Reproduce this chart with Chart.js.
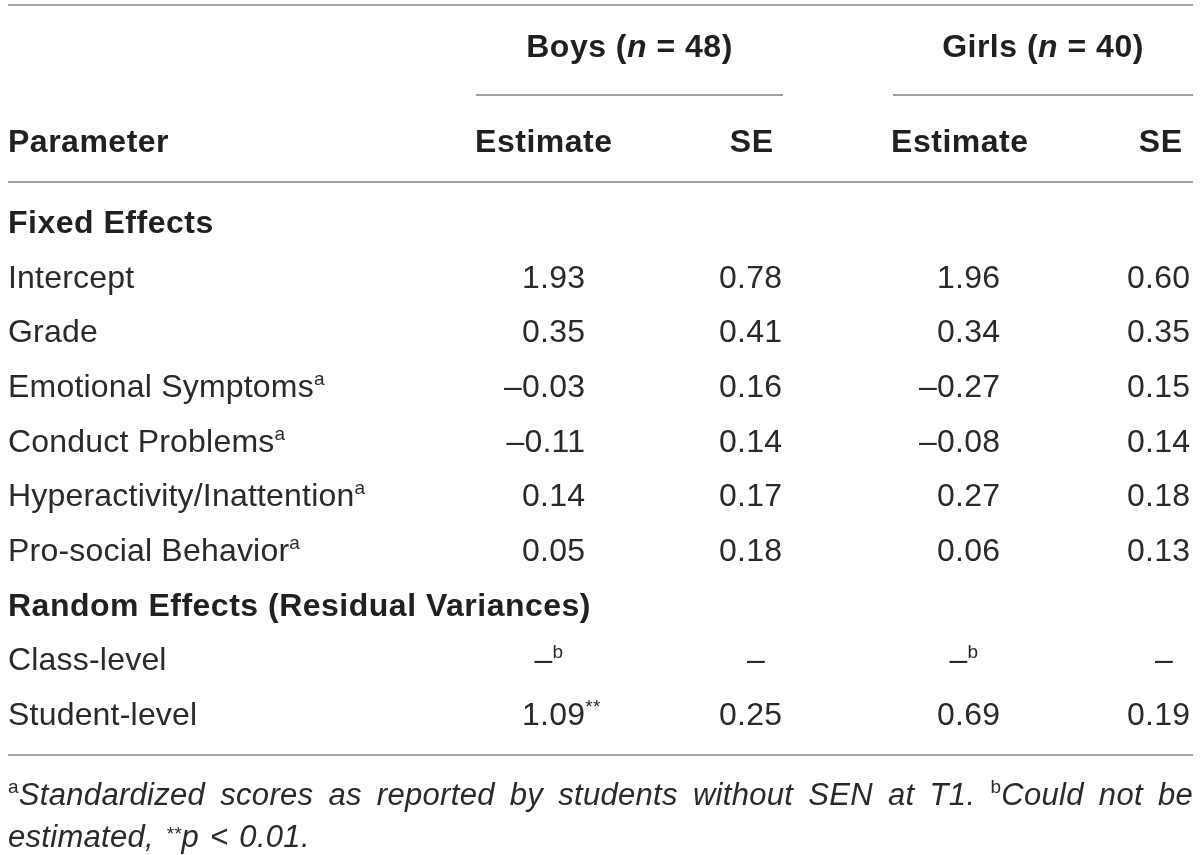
<!DOCTYPE html>
<html>
<head>
<meta charset="utf-8">
<script src="https://cdn.jsdelivr.net/npm/chart.js@4.4.1/dist/chart.umd.min.js"></script>
<style>
html,body{margin:0;padding:0;background:#fff;}
#wrap{width:1200px;height:855px;position:relative;}
</style>
</head>
<body>
<div id="wrap"><canvas id="c"></canvas></div>
<script>
// ---------- DATA ----------
const groups = ['Boys', 'Girls'];
const groupN = [48, 40];
const columnHeads = ['Estimate', 'SE', 'Estimate', 'SE'];
const firstHead = 'Parameter';
const sections = ['Fixed Effects', 'Random Effects (Residual Variances)'];
const fixedParams = ['Intercept', 'Grade', 'Emotional Symptoms', 'Conduct Problems', 'Hyperactivity/Inattention', 'Pro-social Behavior'];
const randomParams = ['Class-level', 'Student-level'];
const paramNotes = ['', '', 'a', 'a', 'a', 'a', '', ''];
const boysEstimate = [1.93, 0.35, -0.03, -0.11, 0.14, 0.05, null, 1.09];
const boysEstimateNotes = ['', '', '', '', '', '', 'b', '**'];
const boysSE = [0.78, 0.41, 0.16, 0.14, 0.17, 0.18, null, 0.25];
const boysSENotes = ['', '', '', '', '', '', '', ''];
const girlsEstimate = [1.96, 0.34, -0.27, -0.08, 0.27, 0.06, null, 0.69];
const girlsEstimateNotes = ['', '', '', '', '', '', 'b', ''];
const girlsSE = [0.60, 0.35, 0.15, 0.14, 0.18, 0.13, null, 0.19];
const girlsSENotes = ['', '', '', '', '', '', '', ''];
const footnoteA = 'Standardized scores as reported by students without SEN at T1.';
const footnoteB = 'Could not be estimated,';
const footnoteP = ['p', '<', '0.01.'];

// ---------- derived ----------
const rows = [sections[0], ...fixedParams, sections[1], ...randomParams];
const params = [...fixedParams, ...randomParams];

// ---------- style / layout ----------
const FF = '"Liberation Sans", Arial, Helvetica, sans-serif';
const SUP = 19, RAISE = 12;
const F = {
  reg:      {font: `32px ${FF}`, ls: 0.2, color: '#2a2a2a'},
  bold:     {font: `bold 32px ${FF}`, ls: 0.5, color: '#231f20'},
  boldItal: {font: `italic bold 32px ${FF}`, ls: 0.5, color: '#231f20'},
  ital:     {font: `italic 31px ${FF}`, ls: 0.3, color: '#2a2a2a'},
  sup:      {font: `${SUP}px ${FF}`, ls: 0.3, color: '#2a2a2a'},
  supItal:  {font: `italic ${SUP}px ${FF}`, ls: 0.3, color: '#2a2a2a'}
};
const RULE = '#a3a3a3';
const LAY = {
  left: 8, right: 1193, topRule: 5, groupBase: 57, groupRule: 95, headBase: 152,
  headRule: 182, bottomRule: 755, foot1: 805, foot2: 847,
  groupRuleX: [[476, 783], [893, 1193]],
  headRight: [612, 773, 1028, 1182],
  colRight: [585, 782, 1000, 1190]
};

const fmt = v => v.toFixed(2).replace('-', '\u2013');

function setF(ctx, f) {
  ctx.font = f.font;
  ctx.fillStyle = f.color;
  ctx.letterSpacing = f.ls + 'px';
}
function tw(ctx, f, t) { setF(ctx, f); return ctx.measureText(t).width; }
function partsWidth(ctx, parts) {
  let w = 0;
  parts.forEach(p => { w += tw(ctx, p.f, p.t); });
  return w;
}
function drawParts(ctx, x, y, parts) {
  parts.forEach(p => {
    setF(ctx, p.f);
    ctx.fillText(p.t, x, y - (p.dy || 0));
    x += ctx.measureText(p.t).width;
  });
  return x;
}
function hline(ctx, x1, x2, y) {
  ctx.beginPath(); ctx.moveTo(x1, y); ctx.lineTo(x2, y); ctx.stroke();
}

const valueCols = [
  {vals: boysEstimate, notes: boysEstimateNotes},
  {vals: boysSE, notes: boysSENotes},
  {vals: girlsEstimate, notes: girlsEstimateNotes},
  {vals: girlsSE, notes: girlsSENotes}
];

const datasets = [
  {kind: 'section', data: sections.map(s => ({x: LAY.left, y: s}))},
  {kind: 'param', data: params.map((p, i) => ({x: LAY.left, y: p, note: paramNotes[i]}))}
];
valueCols.forEach((c, ci) => {
  datasets.push({
    kind: 'value',
    label: columnHeads[ci],
    data: params.map((p, i) => ({x: LAY.colRight[ci], y: p, v: c.vals[i], note: c.notes[i]}))
  });
});
datasets.forEach(d => { d.pointRadius = 0; d.showLine = false; });

const tablePlugin = {
  id: 'tableText',
  afterDraw(chart) {
    const ctx = chart.ctx;
    ctx.save();
    ctx.textBaseline = 'alphabetic';
    ctx.textAlign = 'left';
    // rules
    ctx.strokeStyle = RULE; ctx.lineWidth = 2;
    hline(ctx, LAY.left, LAY.right, LAY.topRule);
    LAY.groupRuleX.forEach(r => hline(ctx, r[0], r[1], LAY.groupRule));
    hline(ctx, LAY.left, LAY.right, LAY.headRule);
    hline(ctx, LAY.left, LAY.right, LAY.bottomRule);

    // group headers, centred over their rules
    groups.forEach((g, i) => {
      const parts = [{t: g + ' (', f: F.bold}, {t: 'n', f: F.boldItal}, {t: ' = ' + groupN[i] + ')', f: F.bold}];
      const w = partsWidth(ctx, parts);
      const c = (LAY.groupRuleX[i][0] + LAY.groupRuleX[i][1]) / 2;
      drawParts(ctx, c - w / 2, LAY.groupBase, parts);
    });
    // column heads
    drawParts(ctx, LAY.left, LAY.headBase, [{t: firstHead, f: F.bold}]);
    columnHeads.forEach((h, i) => {
      const w = tw(ctx, F.bold, h) - F.bold.ls;
      drawParts(ctx, LAY.headRight[i] - w, LAY.headBase, [{t: h, f: F.bold}]);
    });

    // body cells from dataset elements (positions via the chart scales)
    chart.data.datasets.forEach((ds, di) => {
      const meta = chart.getDatasetMeta(di);
      meta.data.forEach((el, i) => {
        const raw = ds.data[i];
        const x = el.x, y = el.y;
        if (ds.kind === 'section') {
          drawParts(ctx, x, y, [{t: raw.y, f: F.bold}]);
        } else if (ds.kind === 'param') {
          const parts = [{t: raw.y, f: F.reg}];
          if (raw.note) parts.push({t: raw.note, f: F.sup, dy: RAISE});
          drawParts(ctx, x, y, parts);
        } else if (ds.kind === 'value') {
          if (raw.v === null || raw.v === undefined) {
            const parts = [{t: '\u2013', f: F.reg}];
            if (raw.note) parts.push({t: raw.note, f: F.sup, dy: RAISE});
            const w = partsWidth(ctx, parts);
            const center = raw.note ? x - 36 : x - 26;
            drawParts(ctx, center - w / 2, y, parts);
          } else {
            const s = fmt(raw.v);
            const w = tw(ctx, F.reg, s) - F.reg.ls;
            const parts = [{t: s, f: F.reg}];
            if (raw.note) parts.push({t: raw.note, f: F.sup, dy: RAISE});
            drawParts(ctx, x - w, y, parts);
          }
        }
      });
    });

    // footnotes, line 1 justified
    const aWords = footnoteA.split(' ');
    const bWords = footnoteB.split(' ');
    const line1 = [];
    aWords.forEach((w, i) => {
      const parts = [];
      if (i === 0) parts.push({t: 'a', f: F.sup, dy: RAISE});
      parts.push({t: w, f: F.ital});
      line1.push(parts);
    });
    const bFirst = bWords.slice(0, 3);
    const bRest = bWords.slice(3);
    bFirst.forEach((w, i) => {
      const parts = [];
      if (i === 0) parts.push({t: 'b', f: F.sup, dy: RAISE});
      parts.push({t: w, f: F.ital});
      line1.push(parts);
    });
    let natural = 0;
    line1.forEach(p => natural += partsWidth(ctx, p));
    const gap = (LAY.right - LAY.left - natural) / (line1.length - 1);
    let fx = LAY.left;
    line1.forEach(p => { fx = drawParts(ctx, fx, LAY.foot1, p) + gap; });
    // line 2
    let x2 = drawParts(ctx, LAY.left, LAY.foot2, [{t: bRest.join(' '), f: F.ital}]) + 12;
    x2 = drawParts(ctx, x2, LAY.foot2, [{t: '**', f: F.supItal, dy: 7}, {t: footnoteP[0], f: F.ital}]) + 11;
    x2 = drawParts(ctx, x2, LAY.foot2, [{t: footnoteP[1], f: F.ital}]) + 11;
    drawParts(ctx, x2, LAY.foot2, [{t: footnoteP[2], f: F.ital}]);
    ctx.restore();
  }
};

new Chart(document.getElementById('c'), {
  type: 'scatter',
  data: {datasets},
  options: {
    responsive: true,
    maintainAspectRatio: false,
    animation: false,
    devicePixelRatio: 1,
    events: [],
    layout: {padding: {top: 233, bottom: 130, left: 0, right: 0}},
    plugins: {legend: {display: false}, tooltip: {enabled: false}, title: {display: false}},
    scales: {
      x: {type: 'linear', min: 0, max: 1200, display: false},
      y: {type: 'category', labels: rows, offset: false, display: false}
    }
  },
  plugins: [tablePlugin]
});
</script>
</body>
</html>
